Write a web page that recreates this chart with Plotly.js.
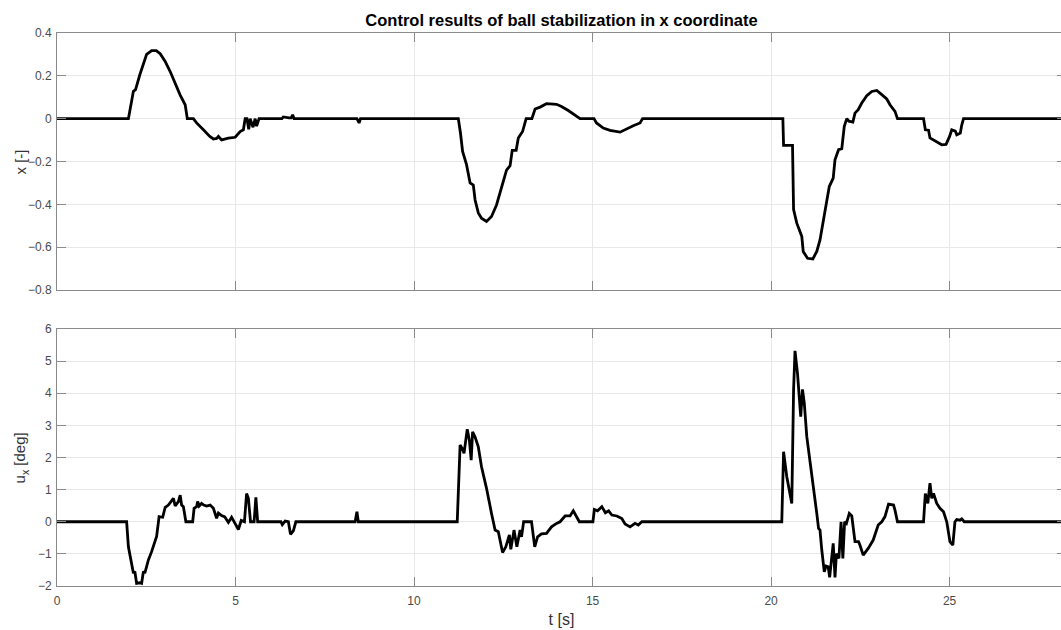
<!DOCTYPE html>
<html>
<head>
<meta charset="utf-8">
<script src="https://cdn.plot.ly/plotly-3.0.1.min.js"></script>
<style>
html,body{margin:0;padding:0;overflow:hidden;background:#fff;}
#chart{width:1066px;height:630px;}
</style>
</head>
<body>
<div id="chart"></div>
<script>
// Top subplot: ball position x [-] over time t [s]
const tPos = [0,2.0,2.14,2.2,2.32,2.42,2.51,2.65,2.78,2.89,3.03,3.17,3.31,3.45,3.59,3.65,3.82,3.91,4.10,4.28,4.38,4.47,4.52,4.61,4.80,4.99,5.13,5.22,5.27,5.32,5.37,5.41,5.49,5.55,5.59,5.66,6.30,6.34,6.50,6.56,6.60,6.64,8.40,8.46,8.50,
 11.24,11.30,11.36,11.47,11.57,11.66,11.71,11.80,11.89,12.03,12.17,12.31,12.45,12.59,12.69,12.75,12.86,12.92,13.04,13.14,13.30,13.39,13.53,13.71,13.99,14.13,14.32,14.51,14.65,15.04,15.11,15.30,15.49,15.77,15.96,16.14,16.33,16.40,
 20.33,20.35,20.60,20.63,20.72,20.86,20.90,21.02,21.17,21.28,21.37,21.51,21.63,21.74,21.79,21.89,21.98,22.05,22.12,22.18,22.29,22.35,22.44,22.54,22.68,22.82,22.96,23.10,23.24,23.33,23.47,23.54,24.27,24.32,24.41,24.45,24.59,24.78,24.90,25.00,25.06,25.16,25.20,25.30,25.34,25.39,28.3];
const xPos = [0,0,0.128,0.135,0.205,0.26,0.30,0.318,0.318,0.303,0.267,0.22,0.166,0.11,0.065,0,0,-0.02,-0.052,-0.083,-0.095,-0.092,-0.083,-0.099,-0.091,-0.087,-0.06,-0.052,0,0,-0.05,0,-0.04,0,-0.035,0,0,0.008,0.004,0.004,0.018,0,0,-0.02,0,
 0,-0.067,-0.153,-0.215,-0.30,-0.31,-0.38,-0.44,-0.465,-0.48,-0.457,-0.403,-0.317,-0.24,-0.22,-0.148,-0.148,-0.09,-0.06,0,0,0.045,0.054,0.07,0.067,0.057,0.038,0.018,0,0,-0.02,-0.044,-0.055,-0.063,-0.047,-0.033,-0.02,0,
 0,-0.125,-0.125,-0.425,-0.488,-0.55,-0.62,-0.652,-0.655,-0.62,-0.566,-0.44,-0.317,-0.278,-0.192,-0.145,-0.14,-0.036,0,-0.012,-0.016,0.026,0.042,0.073,0.107,0.127,0.132,0.112,0.092,0.065,0.034,0,0,-0.052,-0.054,-0.09,-0.105,-0.122,-0.12,-0.083,-0.052,-0.058,-0.075,-0.067,-0.03,0,0];

// Bottom subplot: control input u_x [deg] over time t [s]
const tCtl = [0,1.95,2.0,2.09,2.14,2.18,2.23,2.32,2.37,2.42,2.46,2.56,2.65,2.79,2.86,2.96,3.03,3.12,3.26,3.31,3.40,3.45,3.49,3.54,3.61,3.80,3.84,3.91,3.94,3.98,4.05,4.11,4.19,4.29,4.38,4.47,4.52,4.61,4.70,4.80,4.89,4.99,5.08,5.16,5.25,5.31,5.36,5.42,5.52,5.57,5.62,6.27,6.31,6.39,6.48,6.54,6.62,6.69,8.35,8.40,8.44,
 11.21,11.29,11.35,11.40,11.49,11.55,11.60,11.64,11.71,11.80,11.89,12.03,12.17,12.27,12.36,12.48,12.57,12.67,12.71,12.80,12.88,12.97,13.01,13.07,13.29,13.38,13.46,13.57,13.71,13.85,13.99,14.09,14.23,14.37,14.46,14.55,14.63,15.01,15.05,15.14,15.26,15.36,15.45,15.54,15.68,15.82,15.91,16.05,16.19,16.28,16.38,
 20.30,20.35,20.44,20.54,20.58,20.63,20.67,20.74,20.83,20.88,20.93,21.00,21.09,21.19,21.28,21.33,21.37,21.42,21.49,21.54,21.60,21.64,21.74,21.79,21.83,21.90,21.96,22.01,22.06,22.11,22.19,22.26,22.35,22.45,22.49,22.58,22.72,22.86,23.00,23.10,23.19,23.29,23.43,23.47,23.54,24.27,24.32,24.39,24.45,24.50,24.55,24.64,24.73,24.83,24.92,25.01,25.09,25.15,25.20,25.29,25.34,25.41,28.3];
const uCtl = [0,0,-0.78,-1.4,-1.6,-1.55,-1.92,-1.9,-1.92,-1.55,-1.6,-1.19,-0.93,-0.46,0.16,0.14,0.45,0.52,0.73,0.49,0.63,0.83,0.52,0.47,0,0,0.42,0.47,0.63,0.49,0.57,0.52,0.49,0.52,0.42,0.11,0.27,0.19,0.15,-0.02,0.14,-0.06,-0.24,0.04,0,0.88,0.73,0,0,0.76,0,0,-0.09,0.02,0,-0.39,-0.28,0,0,0.31,0,
 0,2.39,2.28,2.13,2.88,2.54,1.92,2.80,2.64,2.33,1.71,1.04,0.26,-0.26,-0.31,-0.96,-0.78,-0.41,-0.86,-0.26,-0.78,-0.26,-0.47,0,0,-0.78,-0.47,-0.38,-0.36,-0.16,-0.05,0,0.18,0.18,0.34,0.16,0,0,0.38,0.34,0.47,0.28,0.34,0.21,0.18,0.10,-0.07,-0.16,-0.05,-0.1,0,
 0,2.18,1.40,0.78,0.57,4.10,5.32,4.62,3.27,4.12,3.69,2.65,1.92,1.09,0.26,-0.21,-0.26,-0.88,-1.56,-1.38,-1.40,-1.73,-0.67,-1.73,-0.99,-1.14,0,-1.14,0,-0.05,0.26,0.18,-0.62,-0.62,-0.73,-1.04,-0.83,-0.57,-0.10,0,0.16,0.55,0.52,0.36,0,0,0.88,0.57,1.20,0.73,0.88,0.57,0.42,0.31,0,-0.62,-0.73,0,0.07,0.05,0.09,0,0];

const xTicks = [0,5,10,15,20,25];
const titleText = 'Control results of ball stabilization in x coordinate';
const xTitle = 't [s]';
const yTitleTop = 'x [-]';
const yTitleBottom = 'u<sub>x</sub> [deg]';

const FONT = 'Liberation Sans, Arial, Helvetica, sans-serif';
const lineCol = '#8a8a8a';
const gridCol = '#e8e8e8';
const tickFont = {family: FONT, size: 12, color: '#4a4a4a'};
const yTitleFont = {family: FONT, size: 15, color: '#333'};

const traces = [
  {x: tPos, y: xPos, xaxis: 'x', yaxis: 'y', type: 'scatter', mode: 'lines',
   line: {color: '#000', width: 2.8}, hoverinfo: 'x+y'},
  {x: tCtl, y: uCtl, xaxis: 'x2', yaxis: 'y2', type: 'scatter', mode: 'lines',
   line: {color: '#000', width: 2.8}, hoverinfo: 'x+y'}
];

const xCommon = {
  range: [0, 28.26], tickvals: xTicks, ticks: 'inside', ticklen: 9, tickwidth: 1,
  tickcolor: lineCol, showline: true, linecolor: lineCol, linewidth: 1, mirror: 'ticks',
  showgrid: true, gridcolor: gridCol, gridwidth: 1, zeroline: false, tickfont: tickFont
};
const yCommon = {
  ticks: 'inside', ticklen: 9, tickwidth: 1, tickcolor: lineCol, showline: true,
  linecolor: lineCol, linewidth: 1, mirror: 'ticks', showgrid: true, gridcolor: gridCol,
  gridwidth: 1, zeroline: false, tickfont: tickFont, ticklabelstandoff: 2
};

const layout = {
  width: 1066, height: 630,
  margin: {l: 57, r: 0, t: 33, b: 44},
  paper_bgcolor: '#fff', plot_bgcolor: '#fff',
  showlegend: false,
  font: {family: FONT, color: '#000'},
  title: {text: '<b>' + titleText + '</b>', x: 0.5, xref: 'paper', xanchor: 'center',
          y: 1 - 20/630, yref: 'container', yanchor: 'middle',
          font: {family: FONT, size: 16.5, color: '#000'}},
  xaxis: Object.assign({}, xCommon, {domain: [0, 1], anchor: 'y', showticklabels: false}),
  yaxis: Object.assign({}, yCommon, {domain: [0.5353, 1], anchor: 'x', range: [-0.8, 0.4], dtick: 0.2, tick0: 0}),
  xaxis2: Object.assign({}, xCommon, {domain: [0, 1], anchor: 'y2', ticklabelstandoff: 4, automargin: true,
          title: {text: xTitle, font: {family: FONT, size: 16, color: '#333'}, standoff: 6}}),
  yaxis2: Object.assign({}, yCommon, {domain: [0, 0.4647], anchor: 'x2', range: [-2, 6], dtick: 1, tick0: 0}),
  annotations: [
    {text: yTitleTop, xref: 'paper', yref: 'paper', x: -0.0357, y: 0.7676, xanchor: 'center', yanchor: 'middle',
     textangle: -90, showarrow: false, font: yTitleFont},
    {text: yTitleBottom, xref: 'paper', yref: 'paper', x: -0.0357, y: 0.2324, xanchor: 'center', yanchor: 'middle',
     textangle: -90, showarrow: false, font: yTitleFont}
  ]
};

Plotly.newPlot('chart', traces, layout, {displayModeBar: false, staticPlot: true});
</script>
</body>
</html>
